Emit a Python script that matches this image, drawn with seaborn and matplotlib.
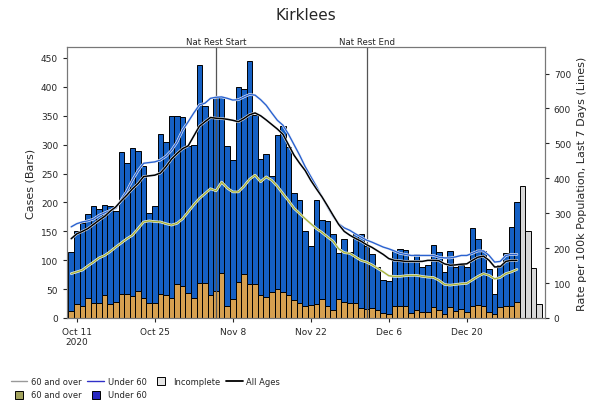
import matplotlib
matplotlib.use("Agg")
import matplotlib.pyplot as plt
import matplotlib.patheffects as pe
from matplotlib.lines import Line2D
import numpy as np
import pandas as pd
import seaborn as sns

# daily cases, Oct 10 2020 .. Dec 29 2020 (complete days)
total_cases = [114, 150, 165, 180, 194, 189, 195, 194, 185, 288,
               269, 294, 289, 263, 182, 194, 318, 304, 349, 349,
               348, 297, 300, 437, 366, 346, 382, 382, 298, 273,
               400, 397, 445, 351, 275, 283, 245, 316, 332, 296,
               216, 205, 150, 125, 205, 169, 167, 145, 112, 137,
               114, 145, 145, 125, 110, 88, 65, 64, 116, 119,
               117, 100, 111, 89, 91, 127, 115, 80, 116, 88,
               92, 89, 155, 136, 116, 84, 41, 91, 113, 157,
               201]
over60_cases = [12, 25, 20, 34, 26, 26, 39, 24, 28, 42,
                42, 38, 47, 35, 26, 26, 42, 39, 35, 59,
                55, 43, 35, 61, 61, 39, 46, 78, 21, 33,
                63, 76, 58, 58, 39, 36, 45, 50, 45, 39,
                31, 26, 20, 23, 25, 33, 20, 13, 32, 28,
                26, 26, 18, 16, 18, 14, 8, 7, 20, 21,
                21, 8, 14, 11, 10, 19, 14, 7, 19, 12,
                16, 10, 21, 22, 20, 10, 7, 19, 20, 21,
                28]
# Dec 30 .. Jan 2, incomplete
incomplete_cases = [228, 150, 87, 25]

# 7-day rate per 100k
rate_all = [227, 241, 248, 256, 268, 280, 291, 306, 318, 336,
            352, 370, 385, 405, 407, 409, 415, 433, 455, 471,
            485, 493, 521, 549, 562, 574, 572, 571, 569, 566,
            562, 571, 582, 587, 579, 567, 554, 541, 526, 496,
            466, 443, 422, 394, 370, 347, 321, 294, 268, 248,
            237, 228, 220, 210, 202, 192, 182, 170, 165, 164,
            162, 162, 162, 162, 165, 165, 164, 155, 151, 152,
            154, 155, 165, 174, 177, 165, 146, 147, 162, 165,
            165]
rate_under60 = [261, 270, 275, 278, 283, 294, 301, 308, 314, 339,
                364, 395, 422, 443, 445, 447, 452, 463, 480, 504,
                538, 562, 587, 610, 615, 629, 632, 633, 629, 624,
                625, 633, 640, 638, 625, 609, 587, 566, 552, 526,
                496, 466, 433, 405, 377, 347, 318, 291, 270, 258,
                251, 241, 232, 223, 217, 210, 203, 198, 192, 185,
                182, 179, 179, 179, 179, 179, 174, 172, 172, 175,
                179, 179, 185, 192, 192, 179, 160, 162, 179, 182,
                182]
rate_over60 = [127, 132, 137, 149, 160, 172, 179, 190, 203, 215,
               227, 237, 256, 275, 278, 276, 275, 270, 266, 271,
               284, 304, 324, 342, 356, 370, 364, 389, 372, 361,
               361, 377, 397, 409, 390, 404, 394, 377, 356, 336,
               314, 299, 284, 270, 256, 245, 232, 220, 198, 187,
               185, 175, 165, 160, 152, 142, 132, 121, 119, 119,
               121, 122, 122, 119, 117, 116, 108, 96, 94, 96,
               98, 99, 109, 119, 127, 122, 112, 116, 127, 132,
               139]

tick_days = [1, 15, 29, 43, 57, 71]
tick_labels = ["Oct 11\n2020", "Oct 25", "Nov 8", "Nov 22", "Dec 6", "Dec 20"]
events = {"Nat Rest Start": 26, "Nat Rest End": 53}

days = np.arange(len(total_cases))
inc_days = np.arange(len(total_cases), len(total_cases) + len(incomplete_cases))
df = pd.DataFrame({"day": days, "total": total_cases, "over60": over60_cases,
                   "r_all": rate_all, "r_u60": rate_under60, "r_o60": rate_over60})

blue = "#1560c4"
orange = "#d6a050"
olive = "#a8b43a"
line_blue = "#2a62d0"

sns.set_style("ticks")
plt.rcParams["font.family"] = ["DejaVu Sans"]

fig = plt.figure(figsize=(6, 4.1), dpi=100)
ax = fig.add_axes([0.112, 0.222, 0.796, 0.661])

sns.barplot(data=df, x="day", y="total", native_scale=True, color=blue, saturation=1,
            width=1, edgecolor="black", linewidth=0.7, errorbar=None, ax=ax)
sns.barplot(data=df, x="day", y="over60", native_scale=True, color=orange, saturation=1,
            width=1, edgecolor="black", linewidth=0.7, errorbar=None, ax=ax)
sns.barplot(x=inc_days, y=incomplete_cases, native_scale=True, color="#d8d8d8", saturation=1,
            width=1, edgecolor="black", linewidth=0.7, errorbar=None, ax=ax)

for name, d in events.items():
    ax.axvline(d, color="#555555", lw=0.9)
    ax.text(d, 471, name, ha="center", va="bottom", fontsize=6.2)

ax.set_xlim(-0.72, 85.0)
ax.set_ylim(0, 469)
ax.set_yticks(range(0, 451, 50))
ax.set_xticks(tick_days)
ax.set_xticklabels(tick_labels, fontsize=6.5)
ax.tick_params(axis="y", labelsize=6.5, length=3)
ax.tick_params(axis="x", length=3)
ax.set_xlabel("")
ax.set_ylabel("Cases (Bars)", fontsize=8)

ax2 = ax.twinx()
halo = [pe.withStroke(linewidth=1.9, foreground="#eef2f8")]
sns.lineplot(data=df, x="day", y="r_o60", color=olive, lw=1.0, ax=ax2, path_effects=halo)
sns.lineplot(data=df, x="day", y="r_u60", color=line_blue, lw=1.0, ax=ax2, path_effects=halo)
sns.lineplot(data=df, x="day", y="r_all", color="black", lw=1.1, ax=ax2, path_effects=halo)
ax2.set_ylim(0, 776)
ax2.set_yticks(range(0, 701, 100))
ax2.tick_params(axis="y", labelsize=6.5, length=3)
ax2.set_ylabel("Rate per 100k Population, Last 7 Days (Lines)", fontsize=8)
ax2.set_xlim(-0.72, 85.0)

for a in (ax, ax2):
    for s in a.spines.values():
        s.set_color("#777777")
        s.set_linewidth(0.8)

ax.set_title("Kirklees", fontsize=11, pad=20)

sq = dict(marker="s", linestyle="none", markersize=6, markeredgecolor="black", markeredgewidth=0.7)
handles = [Line2D([], [], color="#999999", lw=1),
           Line2D([], [], markerfacecolor="#a3a35e", **sq),
           Line2D([], [], color="#3030c8", lw=1),
           Line2D([], [], markerfacecolor="#2828c0", **sq),
           Line2D([], [], markerfacecolor="#e6e6e6", **sq),
           Line2D([], [], color="black", lw=1.3)]
labels = ["60 and over", "60 and over", "Under 60", "Under 60", "Incomplete", "All Ages"]
fig.legend(handles, labels, loc="lower left", bbox_to_anchor=(0.005, 0.005), ncol=4,
           frameon=False, fontsize=6.0, handlelength=2.0, columnspacing=0.7,
           handletextpad=0.45, labelspacing=0.55)

fig.savefig("out.png", dpi=100, facecolor="white")
